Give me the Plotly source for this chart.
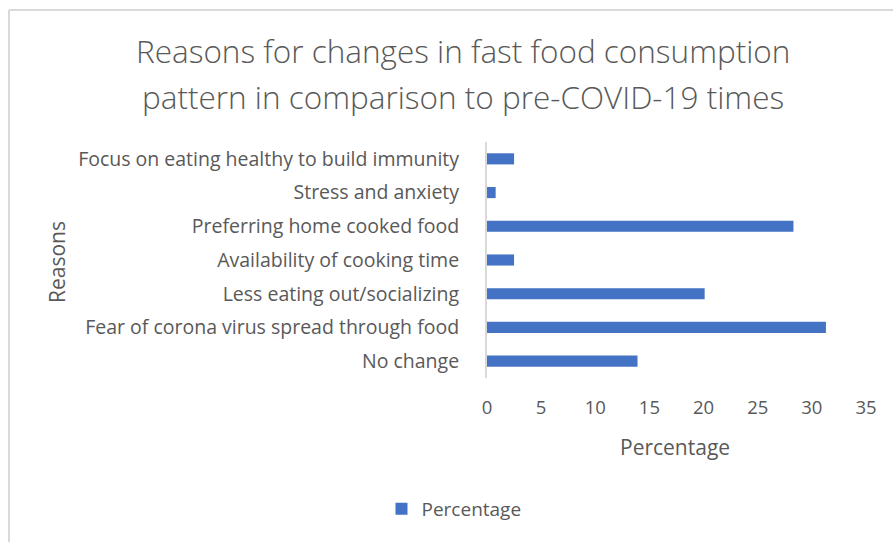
import plotly.graph_objects as go

# Survey reasons (listed bottom to top as drawn on the category axis)
reasons = [
    "No change",
    "Fear of corona virus spread through food",
    "Less eating out/socializing",
    "Availability of cooking time",
    "Preferring home cooked food",
    "Stress and anxiety",
    "Focus on eating healthy to build immunity",
]
percentages = [13.9, 31.3, 20.1, 2.5, 28.3, 0.8, 2.5]
x_ticks = [0, 5, 10, 15, 20, 25, 30, 35]
title_lines = [
    "Reasons for changes in fast food consumption",
    "pattern in comparison to pre-COVID-19 times",
]

W, H = 893, 542
L, R, T, B = 487, 27, 142, 164
TEXT = "#595959"
FONT = "Open Sans"

fig = go.Figure(
    go.Bar(
        y=reasons,
        x=percentages,
        orientation="h",
        name="Percentage",
        marker=dict(color="#4472C4", line=dict(width=0)),
        width=0.33,
    )
)

def px_x(p):
    return (p - L) / (W - L - R)

def px_y(p):
    return 1 - (p - T) / (H - T - B)

# Two-line chart title, each line placed on its own baseline
title_annots = [
    dict(
        text=line,
        xref="paper", yref="paper",
        x=px_x(463), y=px_y(yc),
        xanchor="center", yanchor="middle",
        showarrow=False,
        font=dict(family=FONT, size=31.5, color=TEXT, weight=300),
    )
    for line, yc in zip(title_lines, [51, 96])
]

fig.update_layout(
    width=W,
    height=H,
    margin=dict(l=L, r=R, t=T, b=B),
    paper_bgcolor="white",
    plot_bgcolor="white",
    font=dict(family=FONT, color=TEXT, size=19),
    showlegend=True,
    legend=dict(
        orientation="h",
        x=px_x(454),
        xanchor="center",
        y=px_y(509),
        yanchor="middle",
        font=dict(size=19, color=TEXT),
    ),
    bargap=0.67,
    xaxis=dict(
        range=[0, 35],
        tickvals=x_ticks,
        ticktext=[str(t) for t in x_ticks],
        showgrid=False,
        zeroline=False,
        showline=False,
        ticks="",
        tickfont=dict(size=18.5, color=TEXT),
        ticklabelstandoff=16,
    ),
    yaxis=dict(
        showgrid=False,
        zeroline=False,
        showline=True,
        linecolor="#d9d9d9",
        linewidth=2,
        ticks="",
        tickfont=dict(size=19.5, color=TEXT),
        ticklabelstandoff=22,
    ),
    annotations=title_annots + [
        dict(
            text="Percentage",
            xref="paper", yref="paper",
            x=px_x(675), y=px_y(447),
            xanchor="center", yanchor="middle",
            showarrow=False,
            font=dict(size=21, color=TEXT),
        ),
        dict(
            text="Reasons",
            xref="paper", yref="paper",
            x=px_x(57), y=px_y(262),
            xanchor="center", yanchor="middle",
            textangle=-90,
            showarrow=False,
            font=dict(size=21, color=TEXT),
        ),
    ],
    shapes=[
        dict(
            type="line", xref="paper", yref="paper",
            x0=px_x(9), x1=px_x(W + 5), y0=px_y(10), y1=px_y(10),
            line=dict(color="#d9d9d9", width=2),
        ),
        dict(
            type="line", xref="paper", yref="paper",
            x0=px_x(9), x1=px_x(9), y0=px_y(10), y1=px_y(H + 5),
            line=dict(color="#d9d9d9", width=2),
        ),
    ],
)

fig.write_html("out.html")
